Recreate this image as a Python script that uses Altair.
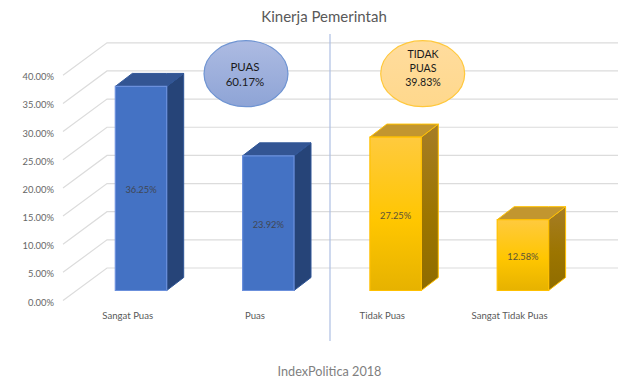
import altair as alt
import pandas as pd

categories = ["Sangat Puas", "Puas", "Tidak Puas", "Sangat Tidak Puas"]
values = [36.25, 23.92, 27.25, 12.58]
groups = ["puas", "puas", "tidak", "tidak"]
value_labels = ["36.25%", "23.92%", "27.25%", "12.58%"]
ticks = [0, 5, 10, 15, 20, 25, 30, 35, 40]
tick_labels = ["0.00%", "5.00%", "10.00%", "15.00%", "20.00%", "25.00%", "30.00%", "35.00%", "40.00%"]

# scale geometry
W, H, TOP = 624, 345, 24
STEP, X0 = 127.3, 141.0      # px per category, page x of the first bar centre
PX = 5.63                    # px per percentage point
BASE = 290.5                 # page y of value 0 at the bars
TXT = 2                      # optical text shift
def xi(page):
    return (page - X0) / STEP
def yv(page):
    return (BASE - page) / PX

xs = alt.Scale(domain=[xi(8), xi(8 + W)], nice=False, zero=False)
ys = alt.Scale(domain=[yv(8 + TOP + H), yv(8 + TOP)], nice=False, zero=False)
X = lambda f="x": alt.X(f, type="quantitative", scale=xs, axis=None)
X2 = lambda f="x2": alt.X2(f)
Y = lambda f="y": alt.Y(f, type="quantitative", scale=ys, axis=None)
Y2 = lambda f="y2": alt.Y2(f)

HALF = 25.7 / STEP
DX = 17.0 / STEP
DY = 13.0 / PX

# Walls
wall_rows = []
for t in ticks:
    wall_rows += [
        {"t": t, "ord": 0, "x": xi(63), "y": t - 10 / PX},
        {"t": t, "ord": 1, "x": xi(107), "y": t + 22.5 / PX},
        {"t": t, "ord": 2, "x": xi(618), "y": t + 22.5 / PX},
    ]
walls = alt.Chart(pd.DataFrame(wall_rows)).mark_line(color="#dcdcdc", strokeWidth=1.2).encode(
    x=X(), y=Y(), detail="t:N", order="ord:Q")

tick_df = pd.DataFrame({"label": tick_labels, "y": [t - 10 / PX for t in ticks], "x": [xi(63)] * len(ticks)})
tick_text = alt.Chart(tick_df).mark_text(font="Lato", fontSize=9.4, color="#666666", align="right", baseline="middle", dx=-9, dy=TXT).encode(
    x=X(), y=Y(), text="label:N")

# Divider
div_df = pd.DataFrame({"x": [xi(330)], "y": [yv(34)], "y2": [yv(341)]})
divider = alt.Chart(div_df).mark_rule(color="#aebfe3", strokeWidth=1.2).encode(x=X(), y=Y(), y2=Y2())

def grad(stops):
    return alt.Gradient(gradient="linear", x1=0, y1=0, x2=0, y2=1,
                        stops=[alt.GradientStop(offset=o, color=c) for o, c in stops])

style = {
    "puas": dict(front=grad([(0, "#4472c4"), (1, "#4472c4")]), fstroke="#6b90dc",
                 side=grad([(0, "#264478"), (1, "#264478")]), top=grad([(0, "#335593"), (1, "#335593")]), stroke="#2f5597"),
    "tidak": dict(front=grad([(0, "#ffca3e"), (0.55, "#ffc600"), (1, "#e6b200")]), fstroke="#ffc000",
                  side=grad([(0, "#a67d26"), (0.55, "#9c7500"), (1, "#8f6c00")]), top=grad([(0, "#c2962f"), (1, "#c2962f")]), stroke="#ffc000"),
}

bars = []
for g in ["puas", "tidak"]:
    s = style[g]
    idx = [i for i, gg in enumerate(groups) if gg == g]
    side_rows, top_rows, front_rows = [], [], []
    for i in idx:
        v = values[i]
        l, r = i - HALF, i + HALF
        front_rows.append({"cat": categories[i], "x": l, "x2": r, "y": v, "y2": 0})
        side_rows += [
            {"cat": categories[i], "x": r, "y": v, "y2": 0},
            {"cat": categories[i], "x": r + DX, "y": v + DY, "y2": DY},
        ]
        top_rows += [
            {"cat": categories[i], "x": l, "y": v, "y2": v},
            {"cat": categories[i], "x": l + DX, "y": v + DY, "y2": v},
            {"cat": categories[i], "x": r, "y": v + DY, "y2": v},
            {"cat": categories[i], "x": r + DX, "y": v + DY, "y2": v + DY},
        ]
    bars.append(alt.Chart(pd.DataFrame(side_rows)).mark_area(color=s["side"], stroke=s["stroke"], strokeWidth=1, opacity=1).encode(
        x=X(), y=Y(), y2=Y2(), detail="cat:N"))
    bars.append(alt.Chart(pd.DataFrame(top_rows)).mark_area(color=s["top"], stroke=s["stroke"], strokeWidth=1, opacity=1).encode(
        x=X(), y=Y(), y2=Y2(), detail="cat:N"))
    bars.append(alt.Chart(pd.DataFrame(front_rows)).mark_bar(color=s["front"], stroke=s["fstroke"], strokeWidth=1.2, opacity=1).encode(
        x=X(), x2=X2(), y=Y(), y2=Y2()))

lab_df = pd.DataFrame({"x": list(range(4)), "y": [v / 2 for v in values], "label": value_labels})
val_text = alt.Chart(lab_df).mark_text(font="Lato", fontSize=9.3, color="#404040", opacity=0.85, baseline="middle", dy=TXT).encode(
    x=X(), y=Y(), text="label:N")

cat_df = pd.DataFrame({"x": list(range(4)), "y": [yv(314)] * 4, "label": categories})
cat_text = alt.Chart(cat_df).mark_text(font="Lato", fontSize=9.6, color="#595959", baseline="middle", dx=-13.3, dy=TXT).encode(
    x=X(), y=Y(), text="label:N")

# Callout ellipses
ELLIPSE = "M-1,0 A1,0.786 0 1,1 1,0 A1,0.786 0 1,1 -1,0 Z"
def ellipse(px, fill, stroke):
    d = pd.DataFrame({"x": [xi(px)], "y": [yv(73.7)]})
    return alt.Chart(d).mark_point(shape=ELLIPSE, size=84 ** 2, filled=True, fill=fill, stroke=stroke,
                                   strokeWidth=1.2, opacity=1, fillOpacity=1, strokeOpacity=1).encode(x=X(), y=Y())
e1 = ellipse(246, grad([(0, "#adbbe2"), (1, "#8ea4d6")]), "#6f94d2")
e2 = ellipse(422.7, grad([(0, "#ffdc9e"), (1, "#ffd88c")]), "#ffc83c")

call1_df = pd.DataFrame({"x": [xi(245), xi(245)], "y": [yv(66), yv(81)], "label": ["PUAS", "60.17%"]})
call2_df = pd.DataFrame({"x": [xi(423)] * 3, "y": [yv(53), yv(67), yv(81)], "label": ["TIDAK", "PUAS", "39.83%"]})
call_text1 = alt.Chart(call1_df).mark_text(font="Lato", fontSize=11.5, color="#1a1a1a", baseline="middle", dy=TXT).encode(
    x=X(), y=Y(), text="label:N")
call_text2 = alt.Chart(call2_df).mark_text(font="Lato", fontSize=10.6, color="#1a1a1a", baseline="middle", dy=TXT).encode(
    x=X(), y=Y(), text="label:N")

foot_df = pd.DataFrame({"x": [xi(329.5)], "y": [yv(371.5)], "label": ["IndexPolitica 2018"]})
foot = alt.Chart(foot_df).mark_text(font="Lato", fontSize=12.7, color="#7f7f7f", baseline="middle").encode(
    x=X(), y=Y(), text="label:N")

chart = alt.layer(walls, tick_text, divider, *bars, val_text, cat_text, e1, e2, call_text1, call_text2, foot).properties(
    width=W, height=H,
    padding={"left": 0, "right": 0, "top": TOP, "bottom": 0},
    autosize=alt.AutoSizeParams(type="none"),
    background="white",
    title=alt.Title("Kinerja Pemerintah", font="Lato", fontSize=15, fontWeight="normal", color="#595959",
                    anchor="middle", dx=4, offset=7),
).configure_view(stroke=None)

chart.save("out.html", embed_options={"renderer": "svg", "actions": False})
